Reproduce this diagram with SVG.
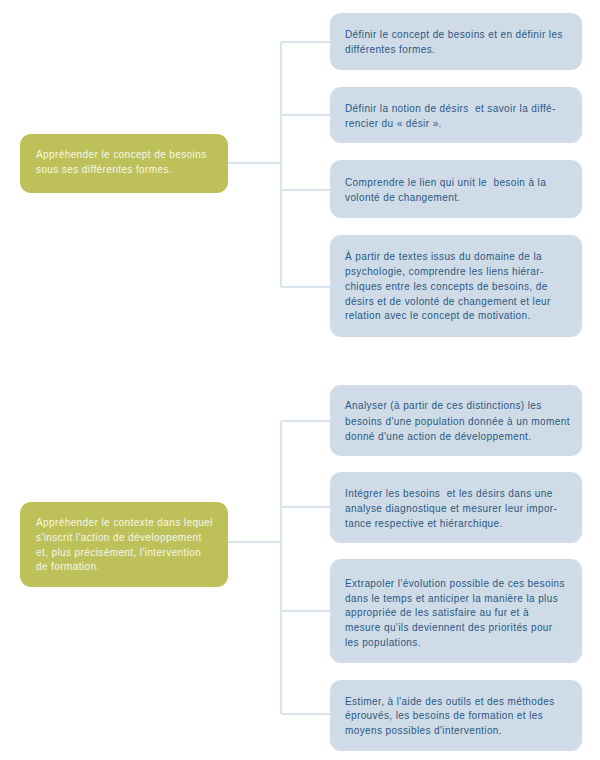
<svg xmlns="http://www.w3.org/2000/svg" width="600" height="760" viewBox="0 0 600 760">
<style>
text{white-space:pre;font-family:"Liberation Sans",Arial,sans-serif;font-size:10px;letter-spacing:0.4px}
.main rect{fill:#BEC15A}
.main text{fill:#F7F7E8}
.sub rect{fill:#CFDCE7}
.sub text{fill:#2A5783}
#connectors path{fill:none;stroke:#D8E4EE;stroke-width:2}
</style>
<rect width="600" height="760" fill="#FFFFFF"/>
<g id="connectors">
<path d="M228 163H281M281 42V287M281 42H330M281 115H330M281 190H330M281 287H330"/>
<path d="M228 542H281M281 421V714M281 421H330M281 507H330M281 611H330M281 714H330"/>
</g>
<g id="m1" class="main">
<rect x="20" y="134" width="208" height="59" rx="11"/>
<text x="36" y="158">Appréhender le concept de besoins</text>
<text x="36" y="173">sous ses différentes formes.</text>
</g>
<g id="s1" class="sub">
<rect x="330" y="13" width="252" height="57" rx="11"/>
<text x="345" y="38">Définir le concept de besoins et en définir les</text>
<text x="345" y="53">différentes formes.</text>
</g>
<g id="s2" class="sub">
<rect x="330" y="87" width="252" height="56" rx="11"/>
<text x="345" y="112">Définir la notion de désirs  et savoir la diffé-</text>
<text x="345" y="127">rencier du « désir ».</text>
</g>
<g id="s3" class="sub">
<rect x="330" y="160" width="252" height="58" rx="11"/>
<text x="345" y="186">Comprendre le lien qui unit le  besoin à la</text>
<text x="345" y="201">volonté de changement.</text>
</g>
<g id="s4" class="sub">
<rect x="330" y="235" width="252" height="102" rx="11"/>
<text x="345" y="260">À partir de textes issus du domaine de la</text>
<text x="345" y="275">psychologie, comprendre les liens hiérar-</text>
<text x="345" y="290">chiques entre les concepts de besoins, de</text>
<text x="345" y="305">désirs et de volonté de changement et leur</text>
<text x="345" y="319">relation avec le concept de motivation.</text>
</g>
<g id="m2" class="main">
<rect x="20" y="502" width="208" height="85" rx="11"/>
<text x="36" y="526">Appréhender le contexte dans lequel</text>
<text x="36" y="541">s'inscrit l'action de développement</text>
<text x="36" y="556">et, plus précisément, l'intervention</text>
<text x="36" y="570">de formation.</text>
</g>
<g id="s5" class="sub">
<rect x="330" y="385" width="252" height="71" rx="11"/>
<text x="345" y="409">Analyser (à partir de ces distinctions) les</text>
<text x="345" y="425">besoins d'une population donnée à un moment</text>
<text x="345" y="440">donné d'une action de développement.</text>
</g>
<g id="s6" class="sub">
<rect x="330" y="472" width="252" height="71" rx="11"/>
<text x="345" y="497">Intégrer les besoins  et les désirs dans une</text>
<text x="345" y="512">analyse diagnostique et mesurer leur impor-</text>
<text x="345" y="527">tance respective et hiérarchique.</text>
</g>
<g id="s7" class="sub">
<rect x="330" y="559" width="252" height="104" rx="11"/>
<text x="345" y="587">Extrapoler l'évolution possible de ces besoins</text>
<text x="345" y="602">dans le temps et anticiper la manière la plus</text>
<text x="345" y="616">appropriée de les satisfaire au fur et à</text>
<text x="345" y="631">mesure qu'ils deviennent des priorités pour</text>
<text x="345" y="646">les populations.</text>
</g>
<g id="s8" class="sub">
<rect x="330" y="680" width="252" height="71" rx="11"/>
<text x="345" y="705">Estimer, à l'aide des outils et des méthodes</text>
<text x="345" y="719">éprouvés, les besoins de formation et les</text>
<text x="345" y="734">moyens possibles d'intervention.</text>
</g>
</svg>
